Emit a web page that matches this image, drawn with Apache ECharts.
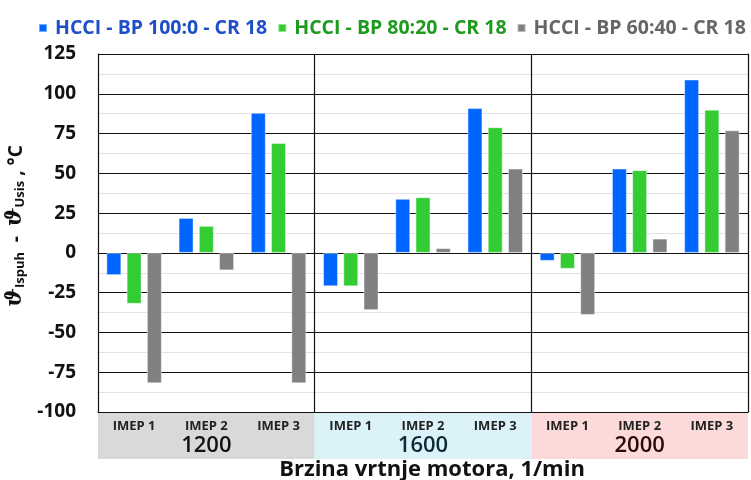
<!DOCTYPE html>
<html>
<head>
<meta charset="utf-8">
<script src="https://cdn.jsdelivr.net/npm/echarts@6/dist/echarts.min.js"></script>
<style>html,body{margin:0;padding:0;background:#fff}#c{width:751px;height:480px}</style>
</head>
<body>
<div id="c"></div>
<script>
var groups = ['1200', '1600', '2000'];
var loads = ['IMEP 1', 'IMEP 2', 'IMEP 3'];
var seriesNames = ['HCCI - BP 100:0 - CR 18', 'HCCI - BP 80:20 - CR 18', 'HCCI - BP 60:40 - CR 18'];
var bp100 = [-14, 22, 88, -21, 34, 91, -5, 53, 109];
var bp80 = [-32, 17, 69, -21, 35, 79, -10, 52, 90];
var bp60 = [-82, -11, -82, -36, 3, 53, -39, 9, 77];
var yTicks = [-100, -75, -50, -25, 0, 25, 50, 75, 100, 125];

var categories = [];
groups.forEach(function (g) { loads.forEach(function (l) { categories.push(g + '|' + l); }); });

var barColors = ['#0066FF', '#33CC33', '#808080'];
var legendTextColors = ['#1F4FC8', '#1E9A1E', '#666666'];
var bandColors = ['#D9D9D9', '#DAF2F8', '#FCDADA'];
var groupTextColors = ['#111111', '#0D2B33', '#2B0A0A'];
var FF = '"Open Sans", "Noto Sans", sans-serif';

var chart = echarts.init(document.getElementById('c'), null, {renderer: 'canvas'});
var values = [bp100, bp80, bp60];

var option = {
  animation: false,
  textStyle: {fontFamily: FF},
  legend: {
    top: 13, left: 33, itemWidth: 8, itemHeight: 8, itemGap: 10, icon: 'rect',
    textStyle: {fontSize: 19.5, fontWeight: 'bold', fontFamily: FF, padding: [0, 0, 0, 3]},
    data: seriesNames.map(function (n, i) { return {name: n, textStyle: {color: legendTextColors[i]}}; })
  },
  grid: [
    {left: 98, right: 3, top: 54, bottom: 68, containLabel: false, outerBoundsMode: 'none'},
    {left: 98, right: 3, top: 413, height: 46, containLabel: false, outerBoundsMode: 'none'}
  ],
  xAxis: [
    {
      type: 'category', gridIndex: 0, data: categories, position: 'bottom',
      axisLine: {onZero: false, lineStyle: {color: '#111', width: 1}},
      axisTick: {show: false},
      axisLabel: {
        margin: 8, fontSize: 13, fontWeight: 'bold', color: '#222', fontFamily: FF,
        formatter: function (v) { return v.split('|')[1]; }
      },
      name: 'Brzina vrtnje motora, 1/min', nameLocation: 'middle', nameGap: 47,
      nameTextStyle: {fontSize: 22, fontWeight: 'bold', color: '#111', fontFamily: FF, padding: [0, 0, 0, 18]}
    },
    {
      type: 'category', gridIndex: 1, data: groups, position: 'top',
      axisLine: {show: false}, axisTick: {show: false},
      splitArea: {show: true, areaStyle: {color: bandColors}},
      axisLabel: {
        inside: true, margin: 22, fontSize: 22, fontFamily: FF,
        formatter: function (v) { return '{g' + groups.indexOf(v) + '|' + v + '}'; },
        rich: {
          g0: {fontSize: 22, fontWeight: 600, color: groupTextColors[0], fontFamily: FF},
          g1: {fontSize: 22, fontWeight: 600, color: groupTextColors[1], fontFamily: FF},
          g2: {fontSize: 22, fontWeight: 600, color: groupTextColors[2], fontFamily: FF}
        }
      }
    },
    {
      type: 'category', gridIndex: 0, data: groups, position: 'top',
      axisLine: {show: true, lineStyle: {color: '#111', width: 1}},
      axisTick: {show: false}, axisLabel: {show: false},
      splitLine: {show: true, lineStyle: {color: '#111', width: 1.2}}
    }
  ],
  yAxis: [
    {
      type: 'value', gridIndex: 0, min: -100, max: 125, interval: 25,
      axisLine: {show: true, lineStyle: {color: '#111', width: 1}},
      axisTick: {show: false},
      axisLabel: {margin: 22, fontSize: 19, fontWeight: 'bold', color: '#111', fontFamily: FF},
      splitLine: {show: true, lineStyle: {color: '#111', width: 1.2}},
      minorTick: {show: false, splitNumber: 2},
      minorSplitLine: {show: true, lineStyle: {color: '#e2e2e2', width: 1}},
      name: '{t|ϑ}{s|Ispuh}{n|  -  }{t|ϑ}{s|Usis}{n| , °C}',
      nameLocation: 'middle', nameGap: 58, nameRotate: 90,
      nameTextStyle: {
        padding: [0, 0, 0, 14],
        rich: {
          t: {fontSize: 22, fontWeight: 'bold', fontStyle: 'italic', color: '#111', fontFamily: 'DejaVu Serif', verticalAlign: 'bottom', lineHeight: 26},
          s: {fontSize: 13, fontWeight: 'bold', color: '#111', fontFamily: FF, verticalAlign: 'bottom', lineHeight: 18, padding: [8, 0, 0, 0]},
          n: {fontSize: 19, fontWeight: 'bold', color: '#111', fontFamily: FF, verticalAlign: 'bottom', lineHeight: 26}
        }
      }
    },
    {
      type: 'value', gridIndex: 0, min: -100, max: 125, interval: 25, position: 'right',
      axisLine: {show: true, lineStyle: {color: '#111', width: 1}},
      axisTick: {show: false}, axisLabel: {show: false}, splitLine: {show: false}
    },
    {type: 'value', gridIndex: 1, show: false}
  ],
  series: seriesNames.map(function (n, i) {
    return {
      name: n, type: 'bar', xAxisIndex: 0, yAxisIndex: 0,
      data: values[i], barWidth: 15, barGap: '35%',
      itemStyle: {color: barColors[i], borderColor: 'rgba(255,255,255,0.45)', borderWidth: 1}
    };
  })
};
chart.setOption(option);
</script>
</body>
</html>
